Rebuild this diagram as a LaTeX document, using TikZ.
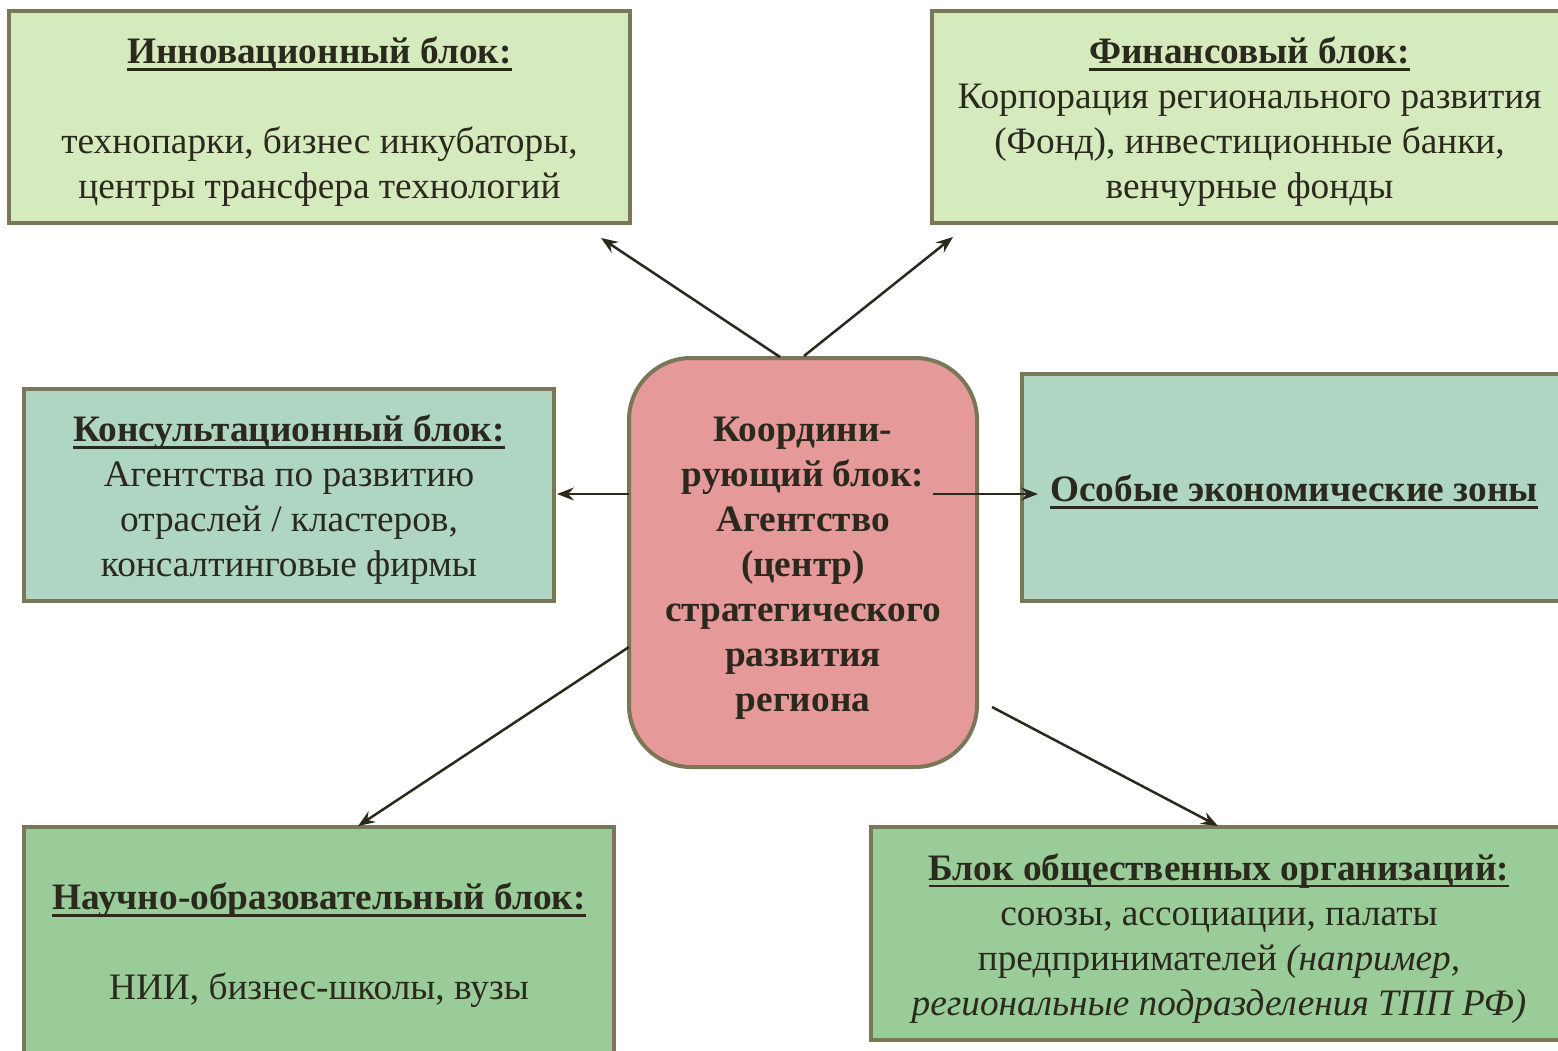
\documentclass[tikz,border=0pt]{standalone}
\usepackage{fontspec}
\setmainfont{Liberation Serif}
\usetikzlibrary{arrows.meta}
\definecolor{bordc}{RGB}{122,118,88}
\definecolor{txtc}{RGB}{43,40,30}
\definecolor{lgreen}{RGB}{213,235,190}
\definecolor{teal}{RGB}{174,214,194}
\definecolor{mgreen}{RGB}{153,204,153}
\definecolor{pinkc}{RGB}{229,153,153}
\newcommand{\myul}[1]{\setbox0\hbox{#1}\rlap{\rule[-7pt]{\wd0}{2.6pt}}\box0}
\begin{document}
\begin{tikzpicture}[x=1pt,y=-1pt,
  blk/.style={draw=bordc, line width=4pt, inner sep=0pt},
  txt/.style={align=center, text=txtc, font=\fontsize{37.3}{45}\selectfont, inner sep=0pt},
  arr/.style={-{Stealth[length=17pt,width=13pt,inset=6pt]}, line width=2.5pt, draw=txtc}]
\useasboundingbox (0,0) rectangle (1558,1051);
\clip (0,0) rectangle (1558,1051);
\fill[white] (0,0) rectangle (1558,1051);

\node[blk, fill=lgreen, minimum width=621pt, minimum height=212pt] (b1) at (319.5,117) {};
\node[txt] (t1) at ([yshift=-5pt]b1.center)
  {\textbf{\myul{Инновационный блок:}}\\[45pt]технопарки, бизнес инкубаторы,\\центры трансфера технологий};
\node[blk, fill=lgreen, minimum width=635pt, minimum height=212pt] (b2) at (1249.5,117) {};
\node[txt] (t2) at ([yshift=-5pt]b2.center)
  {\textbf{\myul{Финансовый блок:}}\\Корпорация регионального развития\\(Фонд), инвестиционные банки,\\венчурные фонды};
\node[blk, fill=teal, minimum width=530pt, minimum height=212pt] (b3) at (289,495) {};
\node[txt] (t3) at ([yshift=-5pt]b3.center)
  {\textbf{\myul{Консультационный блок:}}\\Агентства по развитию\\отраслей / кластеров,\\консалтинговые фирмы};
\node[blk, fill=teal, minimum width=544pt, minimum height=227pt] (b4) at (1294,487.5) {};
\node[txt, font=\fontsize{37.3}{45}\selectfont\bfseries] (t4) at (1294,492)
  {\myul{Особые экономические зоны}};
\node[blk, fill=pinkc, rounded corners=62pt, minimum width=348pt, minimum height=409pt] (cb) at (803,562.5) {};
\node[txt, font=\fontsize{37.3}{45}\selectfont\bfseries] (tc) at ([yshift=-6pt]cb.center)
  {Координи-\\рующий блок:\\Агентство\\(центр)\\стратегического\\развития\\региона};
\node[blk, fill=mgreen, minimum width=590pt, minimum height=233pt] (b5) at (319,943.5) {};
\node[txt] (t5) at ([yshift=-2pt]b5.center)
  {\textbf{\myul{Научно-образовательный блок:}}\\[45pt]НИИ, бизнес-школы, вузы};
\node[blk, fill=mgreen, minimum width=696pt, minimum height=213pt] (b6) at (1219,933.5) {};
\node[txt] (t6) at ([yshift=-5pt]b6.center)
  {\textbf{\myul{Блок общественных организаций:}}\\союзы, ассоциации, палаты\\предпринимателей \textit{(например,}\\\textit{региональные подразделения ТПП РФ)}};

\coordinate (s1) at (780,357);  \coordinate (e1) at (601,238);
\coordinate (s2) at (804,356);  \coordinate (e2) at (953,237);
\coordinate (s3) at (629,494);  \coordinate (e3) at (557,494);
\coordinate (s4) at (933,494);  \coordinate (e4) at (1038,494);
\coordinate (s5) at (629,647);  \coordinate (e5) at (358,826);
\coordinate (s6) at (992,707);  \coordinate (e6) at (1218,826);
\draw[arr] (s1) -- (e1);
\draw[arr] (s2) -- (e2);
\draw[arr] (s3) -- (e3);
\draw[arr] (s4) -- (e4);
\draw[arr] (s5) -- (e5);
\draw[arr] (s6) -- (e6);
\end{tikzpicture}
\end{document}
